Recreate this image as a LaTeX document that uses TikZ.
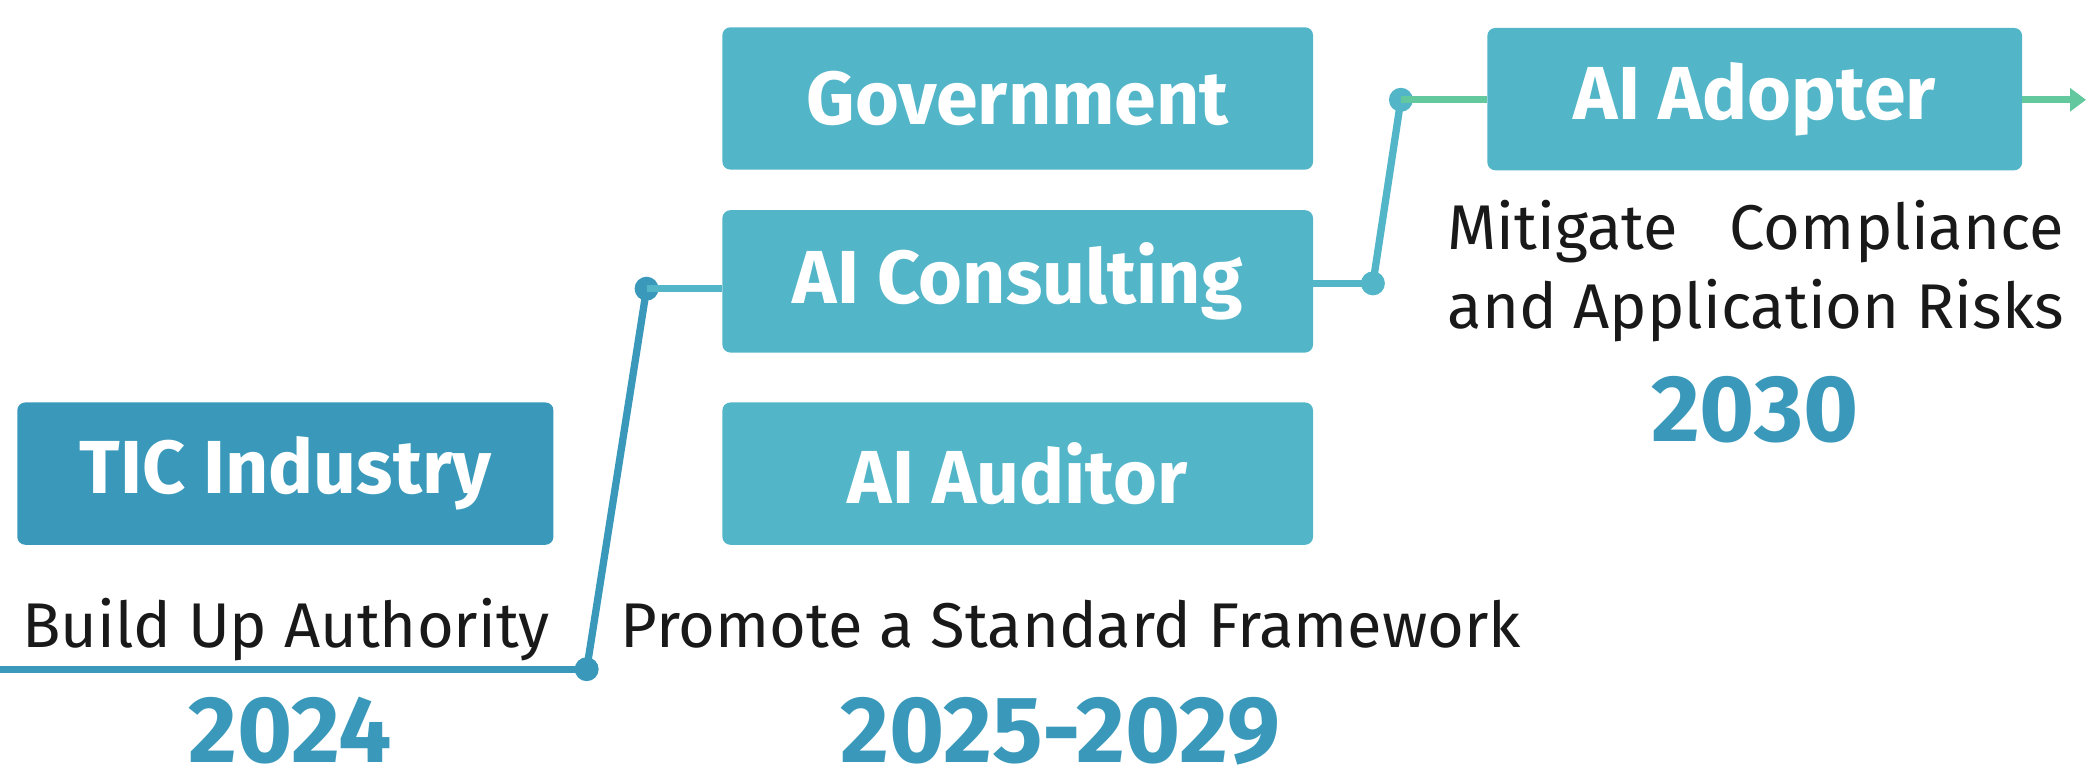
\documentclass[tikz,border=0pt]{standalone}
\usepackage{fontspec}
\setmainfont{Fira Sans}
\usetikzlibrary{arrows.meta}
\definecolor{darkteal}{HTML}{3A99BA}
\definecolor{lightteal}{HTML}{52B5C8}
\definecolor{mint}{HTML}{64C89E}
\newlength\mitw
\tikzset{
  box/.style={rectangle, rounded corners=6pt, minimum width=444pt, minimum height=107pt, inner sep=0pt,
    text=white, font=\fontsize{56.5}{60}\selectfont\bfseries},
  lightbox/.style={box, fill=lightteal},
  darkbox/.style={box, fill=darkteal},
  caption/.style={inner sep=0pt, font=\fontsize{47.5}{60}\selectfont, text=black!90},
  yearlab/.style={inner sep=0pt, font=\fontsize{71}{74}\selectfont\bfseries, text=darkteal},
  dot/.style={circle, inner sep=0pt, minimum size=18pt},
  conn/.style={line width=5.5pt},
}
\begin{document}
\begin{tikzpicture}[x=1pt,y=-1pt]
\useasboundingbox (0,0) rectangle (1568,584);
% boxes
\node[darkbox, minimum width=403pt] (tic) at (214.5,356) {TIC Industry};
\node[lightbox] (gov) at (765,74) {Government};
\node[lightbox] (cons) at (765,211.5) {AI Consulting};
\node[lightbox] (aud) at (765,356) {AI Auditor};
\node[lightbox, minimum width=402pt] (adopt) at (1319,74.5) {AI Adopter};
% dots
\node[dot, fill=darkteal] (d1) at (441,503) {};
\node[dot, fill=darkteal] (d2) at (486,217) {};
\node[dot, fill=lightteal] (d3) at (1032,213) {};
\node[dot, fill=lightteal] (d4) at (1053,75) {};
\coordinate (start) at (0,503);
\coordinate (tip) at (1568,75);
% connectors
\draw[conn, darkteal] (start) -- (d1.center);
\draw[conn, darkteal] (d1.center) -- (d2.center);
\draw[conn, lightteal] (d2.center) -- (d2.center -| cons.west);
\draw[conn, lightteal] (cons.east |- d3.center) -- (d3.center);
\draw[conn, lightteal] (d3.center) -- (d4.center);
\draw[conn, mint] (d4.center) -- (d4.center -| adopt.west);
\draw[conn, mint, -{Triangle[length=12pt,width=17pt]}] (adopt.east |- tip) -- (tip);
% captions
\node[caption, anchor=base] (c1) at (215,487) {Build Up Authority};
\node[caption, anchor=base] (c2) at (805,487) {Promote a Standard Framework};
\node[caption, anchor=north west, align=left] (c3) at (1088,150) {\settowidth{\mitw}{and Application Risks}\makebox[\mitw][s]{Mitigate\hfill Compliance}\\and Application Risks};
% years
\node[yearlab, anchor=base] (y1) at (218,573) {2024};
\node[yearlab, anchor=base] (y2) at (797,573) {2025-2029};
\node[yearlab, anchor=base] (y3) at (1319,332) {2030};
\end{tikzpicture}
\end{document}
